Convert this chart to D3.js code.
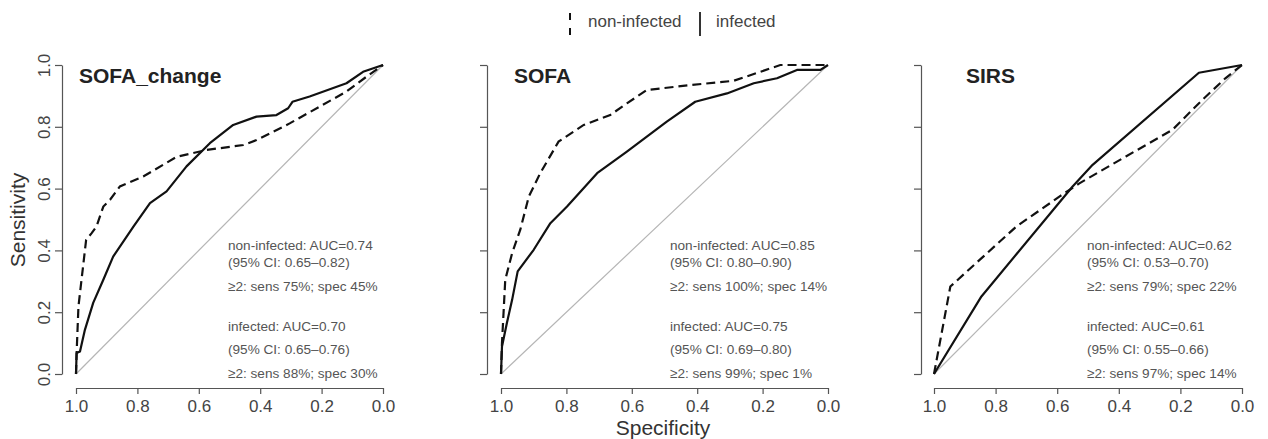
<!DOCTYPE html>
<html>
<head>
<meta charset="utf-8">
<script src="https://cdn.jsdelivr.net/npm/d3@7"></script>
<style>
  body { margin: 0; background: #fff; }
  svg { font-family: "Liberation Sans", Arial, sans-serif; }
</style>
</head>
<body>
<svg id="chart" width="1268" height="439"></svg>
<script>
// panel titles
const titles = ["SOFA_change", "SOFA", "SIRS"];

// ROC points as [specificity, sensitivity]
const sofaChangeNonInfected = [[1, 0], [0.998, 0.068], [0.992, 0.219], [0.967, 0.434], [0.949, 0.456], [0.933, 0.478],
  [0.911, 0.542], [0.889, 0.564], [0.857, 0.607], [0.781, 0.639], [0.672, 0.703], [0.575, 0.725], [0.455, 0.741],
  [0.412, 0.757], [0.304, 0.811], [0.119, 0.914], [0.054, 0.962], [0, 1]];
const sofaChangeInfected = [[1, 0], [0.998, 0.068], [0.987, 0.073], [0.971, 0.143], [0.944, 0.230], [0.911, 0.305],
  [0.879, 0.380], [0.813, 0.477], [0.759, 0.553], [0.705, 0.591], [0.640, 0.672], [0.564, 0.747], [0.488, 0.806],
  [0.412, 0.833], [0.347, 0.838], [0.309, 0.860], [0.295, 0.881], [0.239, 0.898], [0.119, 0.941], [0.065, 0.978], [0, 1]];
const sofaNonInfected = [[1, 0], [0.997, 0.100], [0.987, 0.305], [0.966, 0.391], [0.941, 0.467], [0.915, 0.574],
  [0.880, 0.650], [0.824, 0.752], [0.747, 0.806], [0.666, 0.838], [0.615, 0.876], [0.554, 0.919], [0.421, 0.935],
  [0.288, 0.949], [0.207, 0.978], [0.146, 1.0], [0, 1]];
const sofaInfected = [[1, 0], [0.997, 0.089], [0.982, 0.165], [0.966, 0.240], [0.949, 0.332], [0.900, 0.402],
  [0.849, 0.488], [0.798, 0.542], [0.706, 0.650], [0.615, 0.720], [0.493, 0.817], [0.406, 0.881], [0.309, 0.908],
  [0.227, 0.941], [0.156, 0.957], [0.095, 0.984], [0.023, 0.984], [0, 1]];
const sirsNonInfected = [[1, 0], [0.947, 0.283], [0.851, 0.370], [0.733, 0.477], [0.593, 0.574], [0.528, 0.617],
  [0.377, 0.704], [0.226, 0.790], [0.129, 0.887], [0.054, 0.957], [0, 1]];
const sirsInfected = [[1, 0], [0.846, 0.251], [0.550, 0.607], [0.485, 0.677], [0.140, 0.975], [0, 1]];

// annotation values
const aucNon = ["0.74", "0.85", "0.62"];
const ciNon = ["0.65–0.82", "0.80–0.90", "0.53–0.70"];
const cutNon = ["sens 75%; spec 45%", "sens 100%; spec 14%", "sens 79%; spec 22%"];
const aucInf = ["0.70", "0.75", "0.61"];
const ciInf = ["0.65–0.76", "0.69–0.80", "0.55–0.66"];
const cutInf = ["sens 88%; spec 30%", "sens 99%; spec 1%", "sens 97%; spec 14%"];

const ticks = [1, 0.8, 0.6, 0.4, 0.2, 0];

const curves = [
  [sofaChangeNonInfected, sofaChangeInfected],
  [sofaNonInfected, sofaInfected],
  [sirsNonInfected, sirsInfected]
];

// pixel layout of each panel
const layout = [
  { x0: 76, x1: 383, yAxis: 62, textX: 228, titleX: 79 },
  { x0: 501, x1: 828, yAxis: 487, textX: 670, titleX: 514 },
  { x0: 934, x1: 1242, yAxis: 921, textX: 1087, titleX: 966 }
];
const yTop = 65, yBottom = 374, xAxisY = 388;

const svg = d3.select("#chart");
const y = d3.scaleLinear().domain([0, 1]).range([yBottom, yTop]);

titles.forEach(function (title, i) {
  const L = layout[i];
  const x = d3.scaleLinear().domain([1, 0]).range([L.x0, L.x1]);
  const g = svg.append("g");

  // x axis
  const xa = g.append("g")
    .attr("transform", "translate(0," + xAxisY + ")")
    .call(d3.axisBottom(x).tickValues(ticks).tickFormat(d3.format(".1f")).tickSize(6).tickSizeOuter(0));
  xa.selectAll("path, line").attr("stroke", "#555").attr("stroke-width", 1.2);
  xa.selectAll("text").attr("fill", "#444").attr("font-size", 17).attr("y", 12).attr("dy", "0.71em");

  // y axis
  const ya = g.append("g")
    .attr("transform", "translate(" + L.yAxis + ",0)")
    .call(d3.axisLeft(y).tickValues(ticks.slice().reverse()).tickFormat(d3.format(".1f")).tickSize(7).tickSizeOuter(0));
  ya.selectAll("path, line").attr("stroke", "#555").attr("stroke-width", 1.2);
  if (i === 0) {
    ya.selectAll("text")
      .attr("fill", "#444").attr("font-size", 17)
      .attr("transform", "rotate(-90)")
      .attr("x", 0).attr("y", -12).attr("dy", 0)
      .attr("text-anchor", "middle");
  } else {
    ya.selectAll("text").remove();
  }

  // reference diagonal
  g.append("line")
    .attr("x1", x(1)).attr("y1", y(0))
    .attr("x2", x(0)).attr("y2", y(1))
    .attr("stroke", "#b5b5b5").attr("stroke-width", 1.2);

  const line = d3.line().x(d => x(d[0])).y(d => y(d[1]));

  // infected solid, non-infected dashed
  g.append("path").datum(curves[i][1])
    .attr("d", line).attr("fill", "none")
    .attr("stroke", "#111").attr("stroke-width", 2.2).attr("stroke-linejoin", "round");
  g.append("path").datum(curves[i][0])
    .attr("d", line).attr("fill", "none")
    .attr("stroke", "#111").attr("stroke-width", 2.2).attr("stroke-dasharray", "9,5");

  // title
  g.append("text")
    .attr("x", L.titleX).attr("y", 83)
    .attr("font-size", 21).attr("font-weight", "bold").attr("fill", "#222")
    .text(title);

  // annotations
  const lines = [
    ["non-infected: AUC=" + aucNon[i], 250],
    ["(95% CI: " + ciNon[i] + ")", 267],
    ["≥2: " + cutNon[i], 291],
    ["infected: AUC=" + aucInf[i], 331],
    ["(95% CI: " + ciInf[i] + ")", 354],
    ["≥2: " + cutInf[i], 378]
  ];
  g.selectAll("text.note").data(lines).enter().append("text")
    .attr("class", "note")
    .attr("x", L.textX).attr("y", d => d[1])
    .attr("font-size", 13.6).attr("fill", "#555")
    .text(d => d[0]);
});

// axis titles
svg.append("text")
  .attr("transform", "translate(25,220) rotate(-90)")
  .attr("text-anchor", "middle").attr("font-size", 21).attr("fill", "#333")
  .text("Sensitivity");
svg.append("text")
  .attr("x", 663).attr("y", 435)
  .attr("text-anchor", "middle").attr("font-size", 21).attr("fill", "#333")
  .text("Specificity");

// legend
const legend = svg.append("g");
legend.append("line")
  .attr("x1", 570).attr("x2", 570).attr("y1", 13).attr("y2", 36)
  .attr("stroke", "#111").attr("stroke-width", 2).attr("stroke-dasharray", "7,8");
legend.append("text")
  .attr("x", 588).attr("y", 27).attr("font-size", 17).attr("fill", "#444")
  .text("non-infected");
legend.append("line")
  .attr("x1", 700).attr("x2", 700).attr("y1", 12).attr("y2", 36)
  .attr("stroke", "#333").attr("stroke-width", 2);
legend.append("text")
  .attr("x", 716).attr("y", 27).attr("font-size", 17).attr("fill", "#444")
  .text("infected");
</script>
</body>
</html>
